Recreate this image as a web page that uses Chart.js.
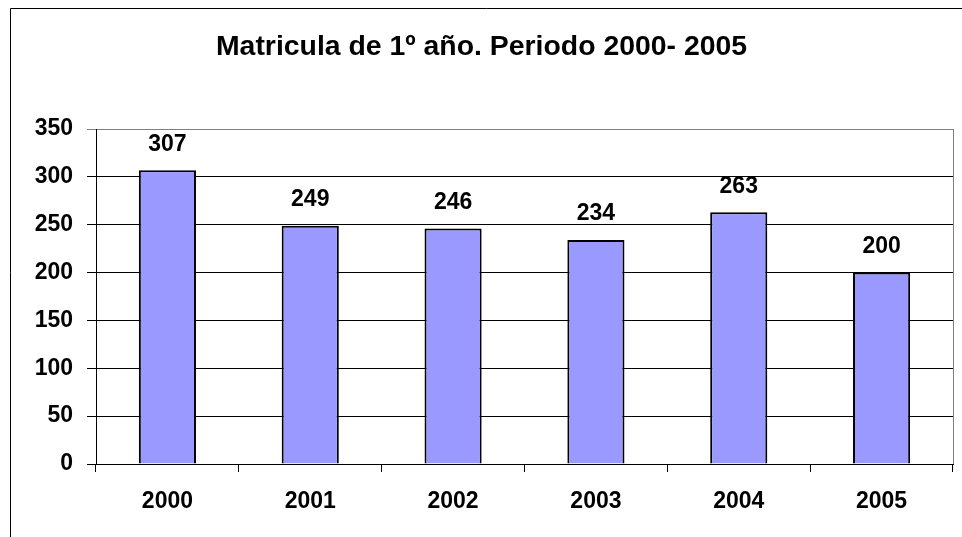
<!DOCTYPE html>
<html>
<head>
<meta charset="utf-8">
<title>Matricula de 1º año</title>
<script src="https://cdn.jsdelivr.net/npm/chart.js@4.4.0/dist/chart.umd.min.js"></script>
<style>
  body { margin: 0; background: #fff; }
  #wrap { width: 962px; height: 537px; position: relative; }
</style>
</head>
<body>
<div id="wrap"><canvas id="chart"></canvas></div>
<script>
// values
const years = ['2000', '2001', '2002', '2003', '2004', '2005'];
const matricula = [307, 249, 246, 234, 263, 200];
const yMin = 0;
const yMax = 350;
const yStep = 50;

const FONT = "'Liberation Sans', Arial, sans-serif";

// frame, plot border and the numbers over the bars
const extras = {
    id: 'extras',
    beforeDatasetsDraw(chart) {
        const { ctx, chartArea } = chart;
        ctx.save();
        ctx.strokeStyle = '#808080';
        ctx.lineWidth = 1;
        ctx.beginPath();
        ctx.moveTo(Math.round(chartArea.right) + 0.5, chartArea.top);
        ctx.lineTo(Math.round(chartArea.right) + 0.5, chartArea.bottom);
        ctx.stroke();
        ctx.restore();
    },
    afterDatasetsDraw(chart) {
        const { ctx } = chart;
        const meta = chart.getDatasetMeta(0);
        ctx.save();
        ctx.fillStyle = '#000';
        ctx.font = 'bold 23px ' + FONT;
        ctx.textAlign = 'center';
        ctx.textBaseline = 'middle';
        meta.data.forEach((bar, i) => {
            ctx.fillText(String(matricula[i]), bar.x, bar.y - 26);
        });
        ctx.restore();
    },
    afterDraw(chart) {
        const { ctx, width, height } = chart;
        ctx.save();
        ctx.strokeStyle = '#000';
        ctx.lineWidth = 1;
        ctx.beginPath();
        ctx.moveTo(10.5, height);
        ctx.lineTo(10.5, 8.5);
        ctx.lineTo(width, 8.5);
        ctx.stroke();
        ctx.restore();
    }
};

let ctx = document.getElementById('chart').getContext('2d');
let myChart = new Chart(ctx, {
    type: 'bar',
    data: {
        labels: years,
        datasets: [{
            label: 'Matricula',
            data: matricula,
            backgroundColor: '#9999FF',
            borderColor: '#000',
            borderWidth: 2,
            barPercentage: 0.4,
            categoryPercentage: 1.0
        }]
    },
    options: {
        responsive: true,
        maintainAspectRatio: false,
        devicePixelRatio: 1,
        animation: false,
        layout: { padding: { left: 10, right: 9, top: 0, bottom: 0 } },
        plugins: {
            legend: { display: false },
            tooltip: { enabled: false },
            title: {
                display: true,
                text: 'Matricula de 1º año. Periodo 2000- 2005',
                color: '#000',
                font: { family: FONT, size: 28.4, weight: 'bold' },
                padding: { top: 30, bottom: 65 }
            }
        },
        scales: {
            x: {
                afterFit(scale) { scale.height = 73; },
                grid: {
                    offset: true,
                    drawOnChartArea: false,
                    drawTicks: true,
                    tickLength: 8,
                    color: '#000'
                },
                border: { display: true, color: '#000', width: 1 },
                ticks: {
                    color: '#000',
                    padding: 16,
                    font: { family: FONT, size: 23, weight: 'bold' }
                }
            },
            y: {
                min: yMin,
                max: yMax,
                afterFit(scale) { scale.width = 86; },
                grid: {
                    color: c => (c.tick && c.tick.value === yMax) ? '#808080' : '#000',
                    tickLength: 9,
                    lineWidth: 1
                },
                border: { display: true, color: '#000', width: 1 },
                ticks: {
                    stepSize: yStep,
                    color: '#000',
                    padding: 14,
                    font: { family: FONT, size: 23, weight: 'bold' }
                }
            }
        }
    },
    plugins: [extras]
});
</script>
</body>
</html>
